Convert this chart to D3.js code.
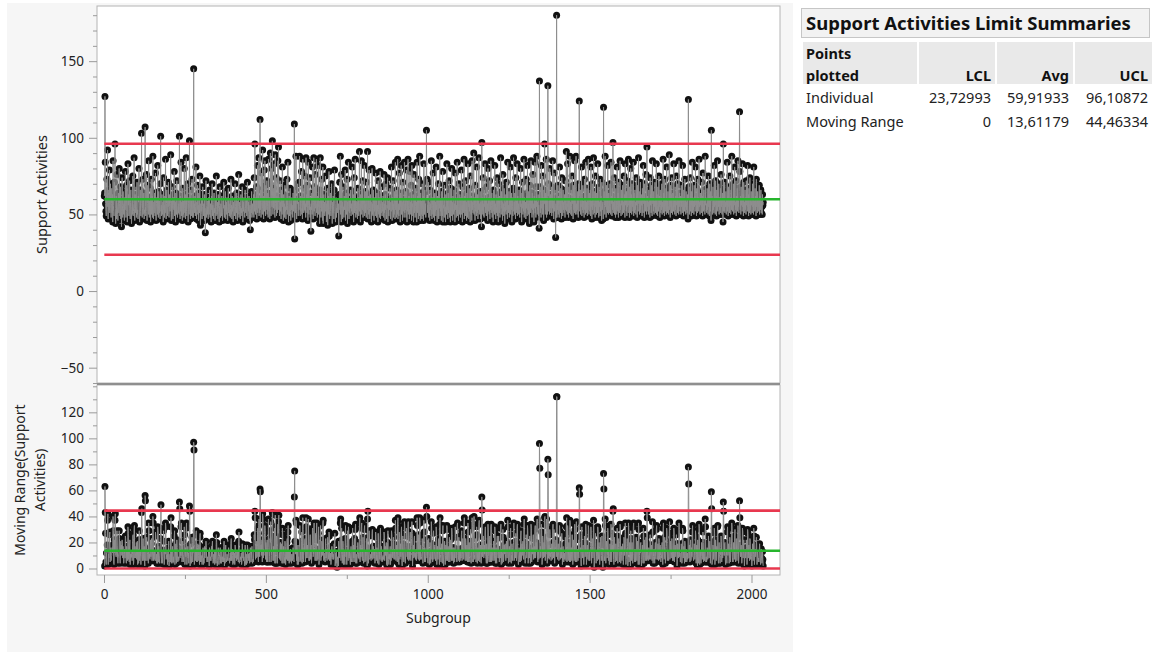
<!DOCTYPE html>
<html>
<head>
<meta charset="utf-8">
<script src="https://cdn.jsdelivr.net/npm/d3@7"></script>
<style>
  html, body { margin: 0; padding: 0; background: #ffffff; }
  svg { display: block; font-family: "Noto Sans", "DejaVu Sans", sans-serif; }
</style>
</head>
<body>
<svg id="chart" width="1152" height="655"></svg>
<script>
// Individual measurements, subgroup 1..N (one value per subgroup)
const supportActivities = [
  62,64,127,84,57,52,49,61,73,55,92,50,47,58,66,53,79,51,56,70,
  54,48,57,67,51,63,45,85,56,52,49,71,59,96,54,44,53,62,47,76,
  58,50,46,55,64,51,80,57,49,53,68,47,60,42,52,74,56,48,65,54,
  50,57,46,61,53,78,55,48,52,69,59,45,51,83,56,63,49,54,72,50,
  47,58,66,53,44,55,61,50,75,49,52,57,87,54,46,63,51,59,68,48,
  55,71,50,53,47,62,58,80,51,45,56,66,52,49,60,103,57,48,54,73,
  50,58,64,47,53,51,107,55,49,61,76,52,46,57,69,54,50,85,56,48,
  59,52,67,45,54,73,50,56,62,48,88,53,47,58,51,64,55,49,77,52,
  46,57,61,54,50,82,53,48,65,55,51,59,47,70,101,52,56,49,63,54,
  50,58,45,74,53,56,48,62,51,86,54,47,57,66,52,49,60,55,71,50,
  48,55,63,52,57,89,50,46,59,54,68,51,47,56,61,53,78,49,52,58,
  45,64,54,50,72,56,48,53,60,51,57,50,101,55,47,62,52,84,49,58,
  53,46,67,55,50,59,48,80,54,51,63,47,56,87,52,49,58,70,53,45,
  57,61,50,98,54,52,47,66,55,59,49,73,53,48,60,48,145,54,57,51,
  62,49,55,81,52,47,58,53,69,50,56,46,64,54,51,75,48,43,57,52,
  60,50,47,55,68,52,49,57,53,63,46,54,38,51,72,56,48,53,59,50,
  55,47,61,52,50,66,54,48,57,51,45,62,53,70,49,56,52,47,58,64,
  51,54,46,60,53,49,75,55,50,52,58,47,63,54,51,45,56,68,52,48,
  57,53,49,62,55,46,51,59,54,71,50,48,56,52,65,47,53,58,50,61,
  52,46,55,67,51,57,49,53,60,48,54,73,50,56,47,62,52,55,45,58,
  54,61,49,52,70,55,47,57,51,64,53,46,59,50,55,76,48,52,58,53,
  47,56,63,51,54,49,68,53,45,58,52,61,55,50,48,66,54,51,57,60,
  49,53,71,55,47,58,52,62,50,46,56,40,54,59,51,65,48,53,57,50,
  55,63,48,74,52,96,57,50,61,53,68,47,56,82,51,59,54,87,49,60,
  51,112,53,66,48,58,77,55,50,92,54,62,47,57,79,52,85,56,49,69,
  53,58,72,50,55,64,48,86,57,52,61,47,70,90,54,49,59,80,55,98,
  56,50,67,54,60,83,52,48,89,57,53,74,49,62,55,51,85,58,94,53,
  61,49,56,72,52,58,47,66,54,50,81,55,59,46,63,53,57,48,69,52,
  55,47,60,53,73,50,56,84,51,45,58,62,49,54,67,52,46,57,53,61,
  50,56,48,64,52,59,54,109,34,55,66,51,88,53,47,60,57,70,52,49,
  58,53,71,88,55,49,62,52,57,78,50,54,47,86,56,61,51,67,53,75,
  52,57,48,87,55,63,51,69,54,46,84,56,50,59,53,74,48,55,39,57,
  53,64,50,81,56,47,58,87,52,68,55,49,76,54,60,86,51,57,48,62,
  55,82,50,53,59,44,66,87,54,48,61,52,73,56,46,81,44,57,63,51,
  58,49,54,75,52,60,45,57,51,67,43,55,62,50,78,53,47,58,64,52,
  49,56,70,53,44,58,51,62,55,47,66,79,52,50,45,57,61,48,54,53,
  60,51,55,57,36,49,63,71,53,88,50,56,45,76,54,58,47,68,52,55,
  48,62,53,56,79,46,55,64,50,53,73,44,58,52,84,55,47,60,51,57,
  54,66,49,57,52,60,81,50,55,63,45,53,74,51,56,86,52,48,59,54,
  50,58,47,67,53,61,49,56,91,52,57,45,63,54,85,50,59,53,72,48,
  56,60,52,82,49,54,65,51,57,48,71,55,53,91,47,58,62,50,79,54,
  47,55,63,52,58,45,53,80,50,57,49,66,54,46,61,52,56,49,77,53,
  59,48,64,52,56,45,72,53,50,61,48,55,78,47,57,51,68,54,49,58,
  52,62,55,48,76,51,57,46,63,53,70,50,47,56,54,74,45,59,52,49,
  60,53,67,50,47,58,52,81,55,46,61,53,72,48,57,50,65,54,47,84,
  53,59,48,66,55,50,86,47,57,52,49,77,53,60,45,64,55,82,50,56,
  58,46,71,52,60,55,48,84,51,57,53,65,48,79,54,45,59,52,86,50,
  56,62,47,54,78,50,58,52,69,46,82,55,57,49,63,45,53,76,51,60,
  48,55,67,52,58,45,84,51,62,54,47,73,55,49,88,53,46,64,57,50,
  59,47,70,53,49,62,46,83,55,50,66,52,57,48,58,105,65,73,51,56,
  52,71,48,58,55,46,66,53,57,49,85,54,47,61,56,50,77,48,55,63,
  46,64,52,58,49,81,53,56,45,62,55,48,70,47,57,54,88,49,60,52,
  57,46,65,53,49,78,45,56,54,61,48,69,52,55,45,63,57,50,83,53,
  59,47,64,51,56,72,48,53,60,45,67,55,49,80,52,58,46,62,54,50,
  66,52,57,45,77,53,61,48,56,51,84,49,59,53,46,70,55,50,63,57,
  48,61,53,79,50,56,45,68,52,59,51,86,47,62,55,49,72,52,58,46,
  64,53,48,83,55,60,47,67,52,57,45,75,54,50,62,46,85,53,58,51,
  56,90,50,61,54,46,69,52,57,49,81,55,51,63,47,59,53,87,50,57,
  52,65,47,58,54,42,97,52,61,50,74,49,57,48,66,55,83,51,60,53,
  49,68,53,57,46,80,52,61,55,50,72,47,58,53,85,51,56,64,48,60,
  54,45,66,52,58,50,82,53,57,47,63,55,51,74,49,61,53,45,70,56,
  51,62,48,56,87,53,50,65,54,58,46,76,52,57,49,67,55,44,63,52,
  58,50,71,53,61,47,84,52,56,51,65,48,60,55,81,50,57,53,64,45,
  61,55,49,67,87,52,58,50,64,55,47,74,53,59,51,83,49,62,54,57,
  50,66,53,48,60,55,80,51,57,45,64,54,71,50,59,52,86,48,61,55,
  51,58,47,73,54,62,49,82,53,57,50,65,52,44,69,56,60,51,85,54,
  59,48,64,53,76,50,57,45,62,54,84,51,59,48,68,55,88,50,58,53,
  63,49,56,41,137,60,68,51,60,48,82,54,57,50,75,53,61,46,66,57,
  96,56,50,64,53,86,48,61,57,50,134,62,70,52,59,50,80,54,63,51,
  57,68,49,61,54,85,51,59,47,77,56,52,66,50,35,57,48,180,48,60,
  53,69,50,62,56,48,81,52,59,51,67,55,47,74,57,60,49,66,53,58,
  51,63,56,48,72,53,59,91,52,57,50,83,55,61,48,68,56,51,88,53,
  58,50,66,55,49,75,57,60,47,69,53,59,51,85,55,50,64,88,52,57,
  50,65,53,59,48,70,62,124,67,52,66,50,57,55,81,49,61,53,69,51,
  59,56,48,73,53,62,50,84,55,58,51,67,49,60,53,86,56,50,64,58,
  52,66,49,81,55,59,47,70,53,61,50,87,56,57,51,65,48,75,55,59,
  50,64,57,51,83,53,60,48,68,55,58,49,73,52,62,56,46,71,53,57,
  58,47,120,59,65,56,50,88,55,59,48,69,53,61,51,82,56,50,64,57,
  60,51,70,55,50,84,57,62,49,67,53,97,51,58,55,74,50,61,56,48,
  67,53,59,50,81,56,52,64,48,71,55,60,51,85,53,57,49,66,56,62,
  50,69,55,58,51,75,53,63,48,83,56,59,52,65,49,72,55,57,51,86,
  56,61,48,68,53,51,80,57,63,50,70,55,59,52,84,49,64,56,51,66,
  53,58,50,74,56,62,48,69,55,52,87,57,60,50,65,53,71,51,58,56,
  63,49,67,55,51,82,57,61,48,70,53,59,52,76,56,50,94,55,62,52,
  58,50,66,53,60,48,74,56,63,51,69,55,49,85,57,61,52,65,50,59,
  55,71,51,60,53,83,50,63,56,49,68,58,52,75,55,62,48,66,56,51,
  61,53,70,50,58,55,86,51,64,57,49,73,56,60,52,67,50,81,53,59,
  51,65,56,50,62,89,53,60,48,69,55,63,51,74,56,50,64,58,52,83,
  55,60,50,68,53,62,49,75,56,58,51,70,53,61,50,85,55,64,52,57,
  62,50,69,55,59,51,82,53,61,49,66,56,52,73,55,60,50,65,53,58,
  51,63,56,47,125,60,68,50,60,55,74,52,58,49,65,56,84,51,61,53,
  59,50,69,55,62,52,81,56,60,49,67,53,51,73,57,61,52,86,55,58,
  50,64,56,60,51,71,55,62,49,77,57,52,66,53,59,50,88,56,61,52,
  57,51,67,53,60,50,75,55,63,49,70,56,52,65,46,105,59,62,56,50,
  68,53,60,51,82,55,58,50,72,56,62,49,66,53,85,52,59,55,70,50,
  61,53,57,67,51,76,55,60,50,64,56,45,96,52,62,52,71,51,58,55,
  65,50,60,56,84,52,62,49,68,55,59,51,75,56,61,50,66,53,88,57,
  52,60,55,70,50,63,56,81,51,58,53,72,49,62,56,67,52,85,55,59,
  51,65,117,78,53,62,50,68,56,60,52,83,55,63,49,71,56,58,51,66,
  53,61,50,72,56,59,52,82,55,63,49,67,57,51,74,53,60,50,65,56,
  58,51,70,55,61,50,81,56,59,52,67,53,62,49,73,55,58,51,65,57,
  52,60,55,69,50,62,56,53,66,51,59,55,50,63,56,58
];

// Axis ticks
const subgroupTicks = [0, 500, 1000, 1500, 2000];
const subgroupMinorTicks = [250, 750, 1250, 1750];
const individualTicks = [-50, 0, 50, 100, 150];
const movingRangeTicks = [0, 20, 40, 60, 80, 100, 120];

// Limit summary table
const limitRows = ["Individual", "Moving Range"];
const limitLCL = [23.72993, 0];
const limitAvg = [59.91933, 13.61179];
const limitUCL = [96.10872, 44.46334];

// Moving range of consecutive measurements (starts at the second subgroup)
const movingRange = supportActivities.slice(1).map((v, i) => ({
  subgroup: i + 2,
  value: Math.abs(v - supportActivities[i])
}));
const individuals = supportActivities.map((v, i) => ({ subgroup: i + 1, value: v }));

const svg = d3.select("#chart");
const font = "Noto Sans, DejaVu Sans, sans-serif";

// light report background
svg.append("rect").attr("x", 7).attr("y", 3).attr("width", 786).attr("height", 649).attr("fill", "#f6f6f6");

const plotLeft = 97, plotRight = 780;
const topPanel = { top: 6, bottom: 383 };
const botPanel = { top: 385, bottom: 575 };

const x = d3.scaleLinear().domain([-21.6, 2088]).range([plotLeft, plotRight]);
const yInd = d3.scaleLinear().domain([-60, 186]).range([topPanel.bottom, topPanel.top]);
const yMR = d3.scaleLinear().domain([-5, 141]).range([botPanel.bottom, botPanel.top]);

const lineColor = "#8e8e8e";
const pointFill = "#111111";
const red = "#e8384f";
const green = "#27b52d";

function panel(p, yScale, data, ticks, minorStep, lcl, avg, ucl) {
  svg.append("rect")
    .attr("x", plotLeft).attr("y", p.top)
    .attr("width", plotRight - plotLeft).attr("height", p.bottom - p.top)
    .attr("fill", "#ffffff").attr("stroke", "#b4b4b4").attr("stroke-width", 1);

  const clipId = "clip" + p.top;
  svg.append("clipPath").attr("id", clipId).append("rect")
    .attr("x", plotLeft).attr("y", p.top)
    .attr("width", plotRight - plotLeft).attr("height", p.bottom - p.top);

  const g = svg.append("g").attr("clip-path", `url(#${clipId})`);

  // markers first, connecting line drawn over them
  g.selectAll("circle.pt").data(data).join("circle")
    .attr("class", "pt")
    .attr("cx", d => x(d.subgroup)).attr("cy", d => yScale(d.value))
    .attr("r", 3.5)
    .attr("fill", pointFill);

  const line = d3.line().x(d => x(d.subgroup)).y(d => yScale(d.value));
  g.append("path").datum(data)
    .attr("d", line).attr("fill", "none")
    .attr("stroke", lineColor).attr("stroke-width", 1);

  const x0 = x(1);
  [[lcl, red], [ucl, red], [avg, green]].forEach(([v, c]) => {
    g.append("line")
      .attr("x1", x0).attr("x2", plotRight)
      .attr("y1", yScale(v)).attr("y2", yScale(v))
      .attr("stroke", c).attr("stroke-width", 2.6);
  });

  // minor ticks
  const [d0, d1] = yScale.domain();
  const minor = d3.range(Math.ceil(d0 / minorStep) * minorStep, d1, minorStep).filter(v => !ticks.includes(v));
  svg.append("g").attr("transform", `translate(${plotLeft},0)`)
    .call(d3.axisLeft(yScale).tickValues(minor).tickSize(4).tickFormat(""))
    .call(a => a.select(".domain").remove())
    .selectAll("line").attr("stroke", "#9a9a9a");

  // major ticks
  const ax = svg.append("g").attr("transform", `translate(${plotLeft},0)`)
    .call(d3.axisLeft(yScale).tickValues(ticks).tickSize(8).tickPadding(5).tickFormat(d3.format("d")));
  ax.select(".domain").remove();
  ax.selectAll("line").attr("stroke", "#9a9a9a");
  ax.selectAll("text")
    .attr("font-family", font)
    .attr("font-size", 13.5).attr("fill", "#222");
}

panel(topPanel, yInd, individuals, individualTicks, 10, limitLCL[0], limitAvg[0], limitUCL[0]);
panel(botPanel, yMR, movingRange, movingRangeTicks, 10, limitLCL[1], limitAvg[1], limitUCL[1]);

// heavier divider between the two charts
svg.append("line")
  .attr("x1", plotLeft).attr("x2", plotRight)
  .attr("y1", 384).attr("y2", 384)
  .attr("stroke", "#8f8f8f").attr("stroke-width", 2.2);

// x axis below the moving range chart
const xMinor = svg.append("g").attr("transform", `translate(0,${botPanel.bottom})`)
  .call(d3.axisBottom(x).tickValues(subgroupMinorTicks).tickSize(4).tickFormat(""));
xMinor.select(".domain").remove();
xMinor.selectAll("line").attr("stroke", "#9a9a9a");

const xAxis = svg.append("g").attr("transform", `translate(0,${botPanel.bottom})`)
  .call(d3.axisBottom(x).tickValues(subgroupTicks).tickSize(8).tickPadding(6).tickFormat(d3.format("d")));
xAxis.select(".domain").remove();
xAxis.selectAll("line").attr("stroke", "#9a9a9a");
xAxis.selectAll("text")
  .attr("font-family", font)
  .attr("font-size", 13.5).attr("fill", "#222");

// axis titles
svg.append("text")
  .attr("x", (plotLeft + plotRight) / 2).attr("y", 623)
  .attr("text-anchor", "middle")
  .attr("font-size", 14).attr("fill", "#222")
  .text("Subgroup");

svg.append("text")
  .attr("transform", `translate(47,${(topPanel.top + topPanel.bottom) / 2}) rotate(-90)`)
  .attr("text-anchor", "middle")
  .attr("font-size", 14.5).attr("fill", "#222")
  .text("Support Activities");

const mrTitle = svg.append("text")
  .attr("transform", `translate(25,${(botPanel.top + botPanel.bottom) / 2}) rotate(-90)`)
  .attr("text-anchor", "middle")
  .attr("font-size", 14).attr("fill", "#222");
mrTitle.append("tspan").attr("x", 0).attr("dy", 0).text("Moving Range(Support");
mrTitle.append("tspan").attr("x", 0).attr("dy", 20).text("Activities)");

// ---- Limit summaries table ----
const tbl = svg.append("g").attr("font-family", font);

tbl.append("rect")
  .attr("x", 801.5).attr("y", 8.5).attr("width", 348).attr("height", 29)
  .attr("fill", "#f2f2f2").attr("stroke", "#c6c6c6");
tbl.append("text")
  .attr("x", 806).attr("y", 30)
  .attr("font-size", 18.5).attr("font-weight", "bold").attr("fill", "#111")
  .text("Support Activities Limit Summaries");

const colEdges = [[803, 917], [919, 995], [997, 1073], [1075, 1152]];
colEdges.forEach(([a, b]) => {
  tbl.append("rect")
    .attr("x", a).attr("y", 42).attr("width", b - a).attr("height", 42)
    .attr("fill", "#e9e9e9");
});

const headFont = 14.5;
tbl.append("text").attr("x", 806).attr("y", 59)
  .attr("font-size", headFont).attr("font-weight", "bold").attr("fill", "#111").text("Points");
tbl.append("text").attr("x", 806).attr("y", 81)
  .attr("font-size", headFont).attr("font-weight", "bold").attr("fill", "#111").text("plotted");
["LCL", "Avg", "UCL"].forEach((h, i) => {
  tbl.append("text")
    .attr("x", colEdges[i + 1][1] - 4).attr("y", 81)
    .attr("text-anchor", "end")
    .attr("font-size", headFont).attr("font-weight", "bold").attr("fill", "#111")
    .text(h);
});

const fmt = v => v === 0 ? "0" : v.toFixed(5).replace(".", ",");
limitRows.forEach((name, r) => {
  const yy = 103 + r * 24;
  tbl.append("text").attr("x", 806).attr("y", yy)
    .attr("font-size", headFont).attr("fill", "#222").text(name);
  [limitLCL[r], limitAvg[r], limitUCL[r]].forEach((v, i) => {
    tbl.append("text")
      .attr("x", colEdges[i + 1][1] - 4).attr("y", yy)
      .attr("text-anchor", "end")
      .attr("font-size", headFont).attr("fill", "#222")
      .text(fmt(v));
  });
});
</script>
</body>
</html>
